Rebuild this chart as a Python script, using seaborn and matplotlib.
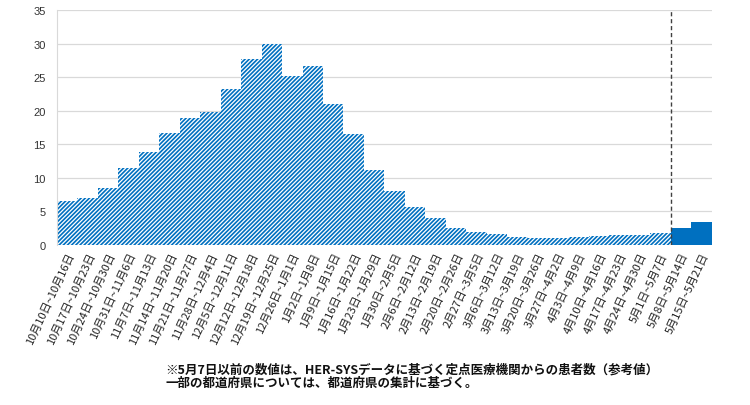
import matplotlib
matplotlib.use('Agg')
import seaborn as sns
import matplotlib.pyplot as plt
import pandas as pd

# weekly periods (x axis)
weeks = [
    '10月10日~10月16日', '10月17日~10月23日', '10月24日~10月30日', '10月31日~11月6日',
    '11月7日~11月13日', '11月14日~11月20日', '11月21日~11月27日', '11月28日~12月4日',
    '12月5日~12月11日', '12月12日~12月18日', '12月19日~12月25日', '12月26日~1月1日',
    '1月2日~1月8日', '1月9日~1月15日', '1月16日~1月22日', '1月23日~1月29日',
    '1月30日~2月5日', '2月6日~2月12日', '2月13日~2月19日', '2月20日~2月26日',
    '2月27日~3月5日', '3月6日~3月12日', '3月13日~3月19日', '3月20日~3月26日',
    '3月27日~4月2日', '4月3日~4月9日', '4月10日~4月16日', '4月17日~4月23日',
    '4月24日~4月30日', '5月1日~5月7日', '5月8日~5月14日', '5月15日~5月21日',
]

# patients per sentinel site
values = [
    6.6, 7.0, 8.5, 11.5, 13.9, 16.7, 18.9, 19.8,
    23.3, 27.7, 30.0, 25.1, 26.7, 21.05, 16.5, 11.2,
    8.1, 5.6, 4.0, 2.5, 2.0, 1.6, 1.25, 1.1,
    1.05, 1.15, 1.3, 1.45, 1.55, 1.75, 2.6, 3.5,
]

# HER-SYS based (reference values) vs sentinel surveillance
source = ['HER-SYS'] * 30 + ['定点'] * 2

note = ('※5月7日以前の数値は、HER-SYSデータに基づく定点医療機関からの患者数（参考値）\n'
        '一部の都道府県については、都道府県の集計に基づく。')

blue = '#0070C0'

sns.set_style('white')
plt.rcParams['font.family'] = ['Noto Sans CJK JP', 'DejaVu Sans']
plt.rcParams['hatch.linewidth'] = 1.2

df = pd.DataFrame({'week': weeks, 'value': values, 'source': source})

fig = plt.figure(figsize=(7.5, 4.06), dpi=100)
ax = fig.add_axes([0.076, 0.394, 0.873, 0.579])
sns.barplot(data=df, x='week', y='value', color=blue, saturation=1,
            width=1.0, ax=ax)

# hatched bars for the HER-SYS period, solid afterwards
for bar, src in zip(ax.patches, df['source']):
    bar.set_linewidth(0)
    bar.set_edgecolor(blue)
    if src == 'HER-SYS':
        bar.set_facecolor('white')
        bar.set_hatch('////////')
    else:
        bar.set_facecolor(blue)

ax.axvline(29.5, ymin=0, ymax=0.995, color='#404040', ls=(0, (3, 2)), lw=1)

ax.set_ylim(0, 35)
ax.set_yticks(range(0, 36, 5))
ax.set_axisbelow(True)
ax.yaxis.grid(True, color='#d9d9d9', lw=0.9)
ax.set_xlabel('')
ax.set_ylabel('')
for s in ['top', 'right', 'bottom']:
    ax.spines[s].set_visible(False)
ax.spines['left'].set_color('#d9d9d9')
ax.tick_params(axis='both', length=0)
ax.tick_params(axis='y', labelsize=8, labelcolor='#333333', pad=8)
plt.setp(ax.get_yticklabels(), family=['Liberation Sans', 'DejaVu Sans'])
plt.setp(ax.get_xticklabels(), rotation=65, ha='right', rotation_mode='anchor',
         fontsize=8, color='#222222')
ax.tick_params(axis='x', pad=4)

fig.text(0.22, 0.04, note, fontsize=9, fontweight='bold', color='#111111',
         linespacing=1.05, va='bottom', ha='left')

fig.savefig('out.png', dpi=100)
